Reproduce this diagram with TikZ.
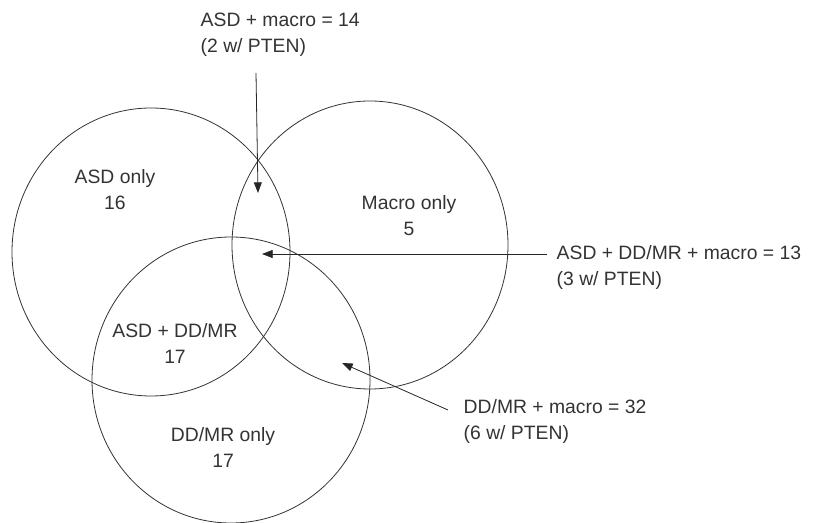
\documentclass[tikz,border=0pt]{standalone}
\usepackage{fontspec}
\setmainfont{Liberation Sans}
\usetikzlibrary{shapes.geometric,arrows.meta}
\begin{document}
\begin{tikzpicture}[x=0.75pt,y=-0.75pt]
   \tikzstyle{set}=[draw=black!80,line width=0.6pt,ellipse,inner sep=0pt]
   \tikzstyle{lbl}=[text=black!80,font=\fontsize{14.5}{19.5}\selectfont,align=center]
   \tikzstyle{note}=[lbl,align=left,anchor=west]
   \tikzstyle{ptr}=[draw=black!85,line width=0.6pt,-{Triangle[length=8pt,width=6pt]}]
   \useasboundingbox (0,0) rectangle (813,523);
   \node[set,minimum width=208.5pt,minimum height=216pt] (asd) at (151,252) {};
   \node[set,minimum width=207pt,minimum height=216pt] (macro) at (370,245) {};
   \node[set,minimum width=208.5pt,minimum height=214.5pt] (ddmr) at (231,380) {};
   \node[lbl] (asdonly) at (115,190) {ASD only\\16};
   \node[lbl] (macroonly) at (409,216) {Macro only\\5};
   \node[lbl] (asdddmr) at (175,343) {ASD + DD/MR\\17};
   \node[lbl] (ddmronly) at (223,447) {DD/MR only\\17};
   \node[note] (note1) at (196,35) {ASD + macro = 14\\(2 w/ PTEN)};
   \node[note] (note2) at (552,267) {ASD + DD/MR + macro = 13\\(3 w/ PTEN)};
   \node[note] (note3) at (459,421) {DD/MR + macro = 32\\(6 w/ PTEN)};
   \coordinate (a1) at (256,73);
   \coordinate (b1) at (258,193);
   \coordinate (a2) at (547,254);
   \coordinate (b2) at (262,254);
   \coordinate (a3) at (448,410);
   \coordinate (b3) at (342,363);
   \draw[ptr] (a1) -- (b1);
   \draw[ptr] (a2) -- (b2);
   \draw[ptr] (a3) -- (b3);
\end{tikzpicture}
\end{document}
